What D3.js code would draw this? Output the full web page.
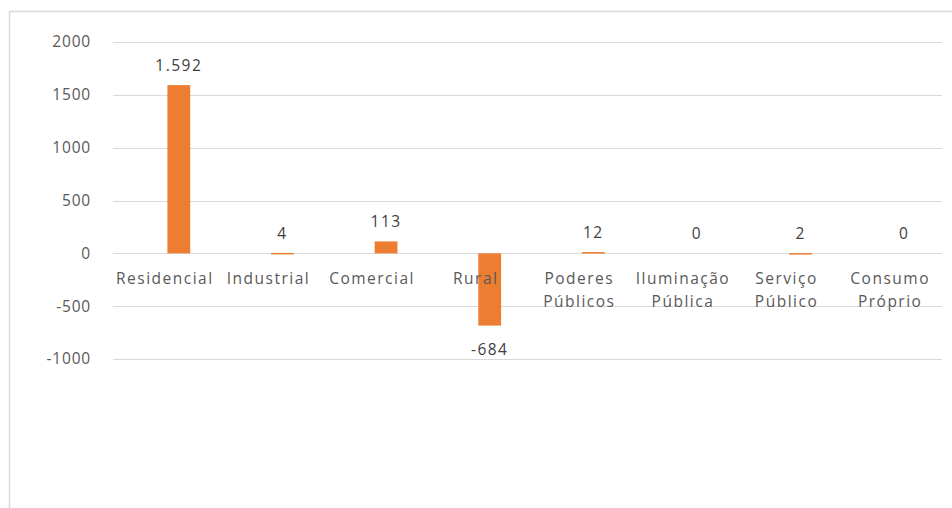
<!DOCTYPE html>
<html><head><meta charset="utf-8">
<script src="https://cdn.jsdelivr.net/npm/d3@7"></script>
<style>
html,body{margin:0;padding:0;background:#fff;}
svg{display:block;font-family:"Open Sans","Noto Sans",sans-serif;}
</style></head>
<body>
<svg id="c" width="952" height="508"></svg>
<script>
const categories = [["Residencial"],["Industrial"],["Comercial"],["Rural"],["Poderes","Públicos"],["Iluminação","Pública"],["Serviço","Público"],["Consumo","Próprio"]];
const values = [1592, 4, 113, -684, 12, 0, 2, 0];
const valueLabels = ["1.592","4","113","-684","12","0","2","0"];
const yTicks = [2000, 1500, 1000, 500, 0, -500, -1000];

const svg = d3.select("#c");
// frame
svg.append("line").attr("x1",9.5).attr("x2",952).attr("y1",11.5).attr("y2",11.5).attr("stroke","#d9d9d9").attr("stroke-width",1.5);
svg.append("line").attr("x1",9.5).attr("x2",9.5).attr("y1",11.5).attr("y2",508).attr("stroke","#d9d9d9").attr("stroke-width",1.5);

// category band scale (labels) and bar band scale (bars are drawn shifted right in the original)
const xCat = d3.scaleBand().domain(d3.range(categories.length)).range([113, 942]).paddingInner(0.78).paddingOuter(0.39);
const x = d3.scaleBand().domain(d3.range(categories.length)).range([127, 956]).paddingInner(0.78).paddingOuter(0.39);
const y = d3.scaleLinear().domain([-1000, 2000]).range([359, 42]);

const g = svg.append("g");
g.selectAll("line.grid").data(yTicks).join("line").attr("class","grid")
  .attr("x1",113).attr("x2",942).attr("y1",d=>Math.round(y(d))+0.5).attr("y2",d=>Math.round(y(d))+0.5)
  .attr("stroke","#d9d9d9").attr("stroke-width",1);

const yAxis = d3.axisLeft(y).tickValues(yTicks).tickSize(0).tickPadding(0).tickFormat(d=>String(d));
const ya = svg.append("g").attr("transform","translate(91,0)").call(yAxis);
ya.select(".domain").remove();
ya.selectAll("text").attr("fill","#595959").attr("font-size","15.5px").attr("letter-spacing","0.8px").attr("font-family","Open Sans, sans-serif");

// bars
g.selectAll("rect").data(values).join("rect")
  .attr("x",(d,i)=>x(i)).attr("width",x.bandwidth())
  .attr("y",d=>y(Math.max(0,d))).attr("height",d=>Math.max(1.5,Math.abs(y(d)-y(0))))
  .attr("fill",(d)=> d===0 ? "none" : "#ED7D31");

// category labels
const cl = svg.append("g");
categories.forEach((lines,i)=>{
  const cx = xCat(i)+xCat.bandwidth()/2;
  const t = cl.append("text").attr("x",cx).attr("y",284)
    .attr("text-anchor","middle").attr("fill","#595959").attr("font-size","15.5px").attr("letter-spacing","1.5px");
  lines.forEach((s,j)=>t.append("tspan").attr("x",cx).attr("dy",j?23:0).text(s));
});

// value labels
values.forEach((v,i)=>{
  const yy = v>=0 ? y(v)-14 : y(v)+29;
  svg.append("text").attr("x",x(i)+x.bandwidth()/2).attr("y",yy)
    .attr("text-anchor","middle").attr("fill","#404040").attr("font-size","15.5px").attr("letter-spacing","1.5px").text(valueLabels[i]);
});
</script>
</body></html>
